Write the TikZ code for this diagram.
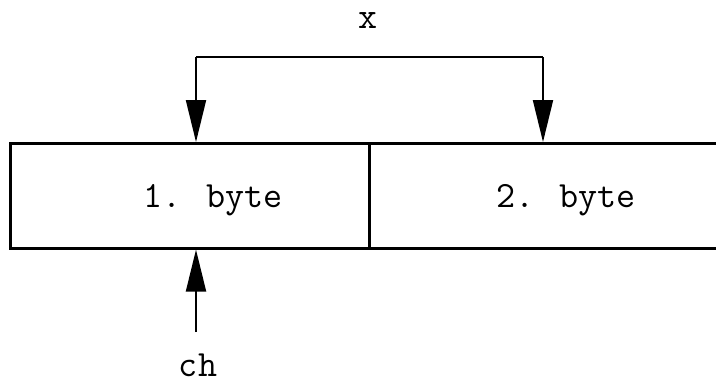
\documentclass[tikz,border=0pt]{standalone}
\usepackage{fontspec}
\usetikzlibrary{arrows.meta}
\begin{document}
\begin{tikzpicture}[x=1pt,y=-1pt,
  cell/.style={draw, line width=2.6pt, minimum height=105pt, inner sep=0pt, anchor=north west},
  lbl/.style={font=\fontsize{37}{40}\selectfont\ttfamily, inner sep=0pt, anchor=base},
  conn/.style={line width=2pt, -{Triangle[length=42pt,width=20pt]}},
  bar/.style={line width=2.4pt, line cap=square}]
% page frame
\useasboundingbox (0,0) rectangle (716,383);
\clip (0,0) rectangle (716,383);
% the two bytes of the word
\node[cell, minimum width=359pt] (c1) at (9,142) {};
\node[cell, minimum width=402pt] (c2) at (368,142) {};
\node[lbl] (t1) at (213,207) {1. byte};
\node[lbl] (t2) at (566,207) {2. byte};
% pointer x spanning both bytes
\node[lbl] (x) at (368,28) {x};
\coordinate (xl) at (196,57);
\coordinate (xr) at (543,57);
\draw[bar] (xl) -- (xr);
\draw[conn] (xl) -- (xl |- c1.north);
\draw[conn] (xr) -- (xr |- c2.north);
% pointer ch to the first byte
\node[lbl] (ch) at (198,376) {ch};
\coordinate (chs) at (196,332);
\draw[conn] (chs) -- (chs |- c1.south);
\end{tikzpicture}
\end{document}
